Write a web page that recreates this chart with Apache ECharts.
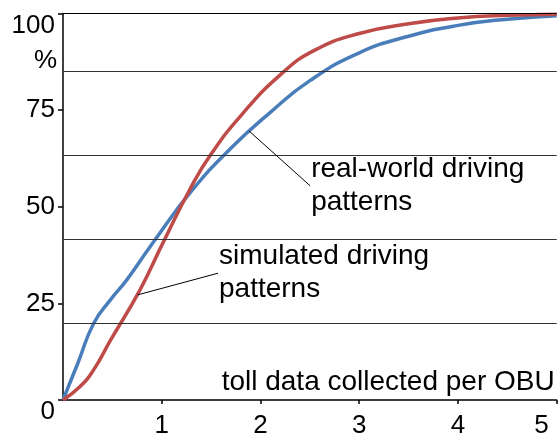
<!DOCTYPE html>
<html><head><meta charset="utf-8">
<script src="https://cdn.jsdelivr.net/npm/echarts@6/dist/echarts.min.js"></script>
<style>html,body{margin:0;padding:0;background:#fff}#c{width:559px;height:436px}</style>
</head><body><div id="c"></div>
<script>
// data (x: toll data per OBU, y: cumulative %)
const realWorld = [[0,0],[0.15,9.5],[0.31,19.8],[0.48,25.9],[0.65,31.2],[0.9,40.3],[1.3,54.0],[1.7,65.1],[2.1,74.4],[2.5,82.6],[3.0,89.8],[3.5,94.1],[4.0,96.9],[4.5,98.5],[5.0,99.4]];
const simulated = [[0,0],[0.17,3.4],[0.31,7.8],[0.48,15.4],[0.78,28.5],[1.0,40.0],[1.3,55.2],[1.5,63.6],[1.8,73.5],[2.2,84.1],[2.55,90.5],[3.0,94.8],[3.5,97.3],[4.0,98.8],[4.5,99.5],[5.0,99.8]];
const gridLevels = [19.9, 41.6, 63.4, 85.1, 100];
const xAxisTitle = 'toll data collected per OBU';
const yAxisUnit = '%';
// annotations: [point on curve], [text anchor], text
const annoRealFrom = [1.884, 69.6];
const annoRealTo = [2.503, 55.4];
const annoRealText = 'real-world driving\npatterns';
const annoSimFrom = [0.757, 27.2];
const annoSimTo = [1.570, 32.8];
const annoSimText = 'simulated driving\npatterns';

const FONT = "'Liberation Sans', Arial, sans-serif";
const chart = echarts.init(document.getElementById('c'));
chart.setOption({
  animation: false,
  grid: {left: 63, right: 2.3, top: 13.4, bottom: 36, containLabel: false, outerBoundsMode: 'none'},
  xAxis: {
    type: 'value', min: 0, max: 5, interval: 1,
    name: xAxisTitle, nameLocation: 'end', nameGap: -2,
    nameMoveOverlap: false,
    nameTextStyle: {fontFamily: FONT, fontSize: 28, color: '#000', align: 'right', verticalAlign: 'bottom', padding: [0, 0, 4, 0]},
    axisLine: {show: true, lineStyle: {color: '#000', width: 1.5}},
    axisTick: {show: true, length: 4, lineStyle: {color: '#000', width: 1.5}},
    splitLine: {show: false},
    axisLabel: {
      fontFamily: FONT, fontSize: 26, color: '#000', margin: 13,
      showMinLabel: false, alignMaxLabel: 'right',
      formatter: v => v === 5 ? '{last|5}' : String(v),
      rich: {last: {fontFamily: FONT, fontSize: 26, color: '#000', padding: [0, 8, 0, 0]}}
    }
  },
  yAxis: {
    type: 'value', min: 0, max: 100, interval: 25,
    name: yAxisUnit, nameLocation: 'end', nameGap: -47.6,
    nameMoveOverlap: false,
    nameTextStyle: {fontFamily: FONT, fontSize: 26, color: '#000', align: 'right', verticalAlign: 'middle', padding: [0, 6, 0, 0]},
    axisLine: {show: true, lineStyle: {color: '#000', width: 1.5}},
    axisTick: {show: true, length: 5, lineStyle: {color: '#000', width: 1.5}},
    splitLine: {show: false},
    axisLabel: {
      fontFamily: FONT, fontSize: 26, color: '#000', margin: 8, lineHeight: 24,
      verticalAlignMaxLabel: 'top',
      formatter: v => v === 0 ? '\n0' : String(v)
    }
  },
  series: [
    {
      type: 'line', data: realWorld, smooth: 0.5, showSymbol: false,
      lineStyle: {color: '#4A7EBB', width: 3.5}, z: 3,
      markLine: {
        silent: true, symbol: 'none', label: {show: false},
        data: gridLevels.map(v => ({yAxis: v, lineStyle: {color: v === 100 ? '#000' : '#333', width: 1.2, type: 'solid'}}))
      }
    },
    {
      type: 'line', data: simulated, smooth: 0.5, showSymbol: false,
      lineStyle: {color: '#BE4B48', width: 3.5}, z: 4
    }
  ]
});

function px(p) { return chart.convertToPixel({gridIndex: 0}, p); }
const annos = [[annoRealFrom, annoRealTo, annoRealText], [annoSimFrom, annoSimTo, annoSimText]];
const g = [];
annos.forEach(([a, b, t]) => {
  const p1 = px(a), p2 = px(b);
  g.push({type: 'line', shape: {x1: p1[0], y1: p1[1], x2: p2[0], y2: p2[1]}, style: {stroke: '#000', lineWidth: 1}, z: 10});
  g.push({type: 'text', x: p2[0] + 1, y: p2[1], style: {text: t, fill: '#000', font: '28px ' + FONT, lineHeight: 33, align: 'left', verticalAlign: 'middle'}, z: 10});
});
chart.setOption({graphic: g});
</script>
</body></html>
